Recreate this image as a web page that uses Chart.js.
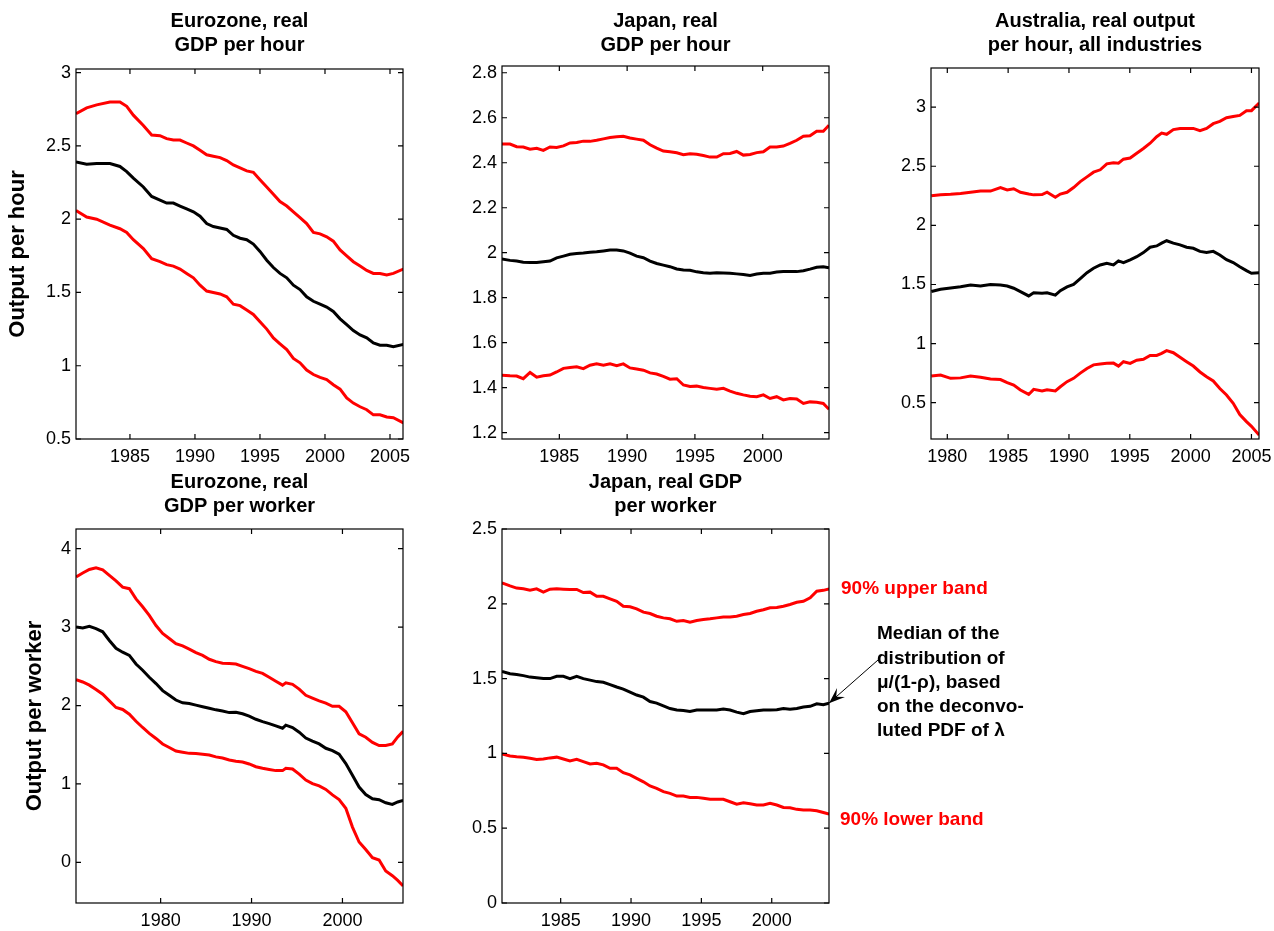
<!DOCTYPE html>
<html>
<head>
<meta charset="utf-8">
<title>Output per hour / per worker bands</title>
<script src="https://cdn.jsdelivr.net/npm/chart.js@4.4.1/dist/chart.umd.min.js"></script>
<style>
  html, body { margin: 0; padding: 0; background: #fff; }
  #page { position: relative; width: 1274px; height: 931px; overflow: hidden; }
  #page canvas { position: absolute; }
</style>
</head>
<body>
<div id="page">
  <canvas id="c-ez-hour"></canvas>
  <canvas id="c-jp-hour"></canvas>
  <canvas id="c-au-hour"></canvas>
  <canvas id="c-ez-worker"></canvas>
  <canvas id="c-jp-worker"></canvas>
</div>
<script>
// ===== Eurozone, real GDP per hour =====
const EZH_YEARS = [1980.85, 1981.67, 1982.44, 1983.46, 1984.23, 1984.75, 1985.26, 1986.03, 1986.67, 1987.31,
  1987.82, 1988.34, 1988.85, 1989.36, 1989.88, 1990.39, 1990.9, 1991.41, 1991.93, 1992.44,
  1992.95, 1993.47, 1993.98, 1994.49, 1995.0, 1995.52, 1996.03, 1996.54, 1997.06, 1997.57,
  1998.08, 1998.59, 1999.11, 1999.62, 2000.13, 2000.64, 2001.16, 2001.67, 2002.18, 2002.7,
  2003.21, 2003.72, 2004.23, 2004.75, 2005.26, 2006.03];
const EZH_UPPER = [2.72, 2.76, 2.78, 2.80, 2.80, 2.77, 2.71, 2.64, 2.575, 2.57,
  2.55, 2.54, 2.54, 2.52, 2.50, 2.47, 2.44, 2.43, 2.42, 2.40,
  2.37, 2.35, 2.33, 2.32, 2.27, 2.22, 2.17, 2.12, 2.09, 2.05,
  2.01, 1.97, 1.91, 1.90, 1.88, 1.85, 1.79, 1.75, 1.71, 1.68,
  1.65, 1.63, 1.63, 1.62, 1.63, 1.66];
const EZH_MEDIAN = [2.39, 2.375, 2.38, 2.38, 2.36, 2.325, 2.28, 2.22, 2.155, 2.13,
  2.11, 2.11, 2.09, 2.07, 2.05, 2.02, 1.97, 1.95, 1.94, 1.93,
  1.89, 1.87, 1.86, 1.83, 1.78, 1.72, 1.67, 1.63, 1.60, 1.55,
  1.52, 1.47, 1.44, 1.42, 1.40, 1.37, 1.32, 1.28, 1.24, 1.21,
  1.19, 1.155, 1.14, 1.14, 1.13, 1.145];
const EZH_LOWER = [2.06, 2.015, 2.0, 1.96, 1.935, 1.91, 1.86, 1.80, 1.73, 1.71,
  1.69, 1.68, 1.66, 1.63, 1.60, 1.55, 1.51, 1.50, 1.49, 1.47,
  1.42, 1.41, 1.38, 1.35, 1.30, 1.25, 1.19, 1.15, 1.11, 1.05,
  1.02, 0.97, 0.94, 0.92, 0.905, 0.87, 0.84, 0.78, 0.745, 0.72,
  0.70, 0.665, 0.665, 0.65, 0.645, 0.61];
const EZH_XTICKS = [1985, 1990, 1995, 2000, 2005];
const EZH_YTICKS = [0.5, 1, 1.5, 2, 2.5, 3];

// ===== Japan, real GDP per hour =====
const JPH_YEARS = [1980.75, 1981.36, 1981.85, 1982.34, 1982.84, 1983.33, 1983.82, 1984.31, 1984.80, 1985.30,
  1985.79, 1986.28, 1986.77, 1987.26, 1987.75, 1988.25, 1988.74, 1989.23, 1989.72, 1990.21,
  1990.70, 1991.20, 1991.69, 1992.18, 1992.67, 1993.16, 1993.66, 1994.15, 1994.64, 1995.13,
  1995.62, 1996.11, 1996.61, 1997.10, 1997.59, 1998.08, 1998.57, 1999.07, 1999.56, 2000.05,
  2000.54, 2001.03, 2001.52, 2002.01, 2002.51, 2003.00, 2003.49, 2003.98, 2004.47, 2004.89];
const JPH_UPPER = [2.483, 2.483, 2.471, 2.47, 2.46, 2.464, 2.455, 2.47, 2.468, 2.475,
  2.488, 2.49, 2.496, 2.495, 2.50, 2.506, 2.512, 2.515, 2.518, 2.51,
  2.505, 2.50, 2.48, 2.465, 2.452, 2.449, 2.444, 2.436, 2.44, 2.438,
  2.432, 2.425, 2.425, 2.44, 2.441, 2.45, 2.434, 2.437, 2.445, 2.449,
  2.47, 2.47, 2.474, 2.486, 2.50, 2.518, 2.52, 2.54, 2.54, 2.567];
const JPH_MEDIAN = [1.972, 1.966, 1.963, 1.958, 1.957, 1.957, 1.96, 1.963, 1.977, 1.985,
  1.993, 1.997, 1.999, 2.002, 2.004, 2.008, 2.012, 2.012, 2.008, 1.998,
  1.985, 1.978, 1.963, 1.952, 1.945, 1.938, 1.928, 1.923, 1.922, 1.915,
  1.911, 1.909, 1.911, 1.910, 1.909, 1.906, 1.903, 1.899, 1.905, 1.909,
  1.909, 1.914, 1.916, 1.916, 1.916, 1.92, 1.927, 1.935, 1.938, 1.933];
const JPH_LOWER = [1.456, 1.453, 1.452, 1.440, 1.468, 1.447, 1.453, 1.456, 1.47, 1.486,
  1.49, 1.493, 1.485, 1.50, 1.506, 1.50, 1.506, 1.498, 1.506, 1.488,
  1.483, 1.478, 1.466, 1.461, 1.45, 1.438, 1.44, 1.412, 1.405, 1.407,
  1.401, 1.397, 1.393, 1.397, 1.385, 1.375, 1.368, 1.362, 1.36, 1.368,
  1.352, 1.36, 1.346, 1.352, 1.35, 1.33, 1.337, 1.335, 1.33, 1.304];
const JPH_XTICKS = [1985, 1990, 1995, 2000];
const JPH_YTICKS = [1.2, 1.4, 1.6, 1.8, 2, 2.2, 2.4, 2.6, 2.8];

// ===== Australia, real output per hour, all industries =====
const AUH_YEARS = [1978.69, 1979.45, 1980.27, 1981.09, 1981.91, 1982.73, 1983.55, 1984.37, 1984.92, 1985.46,
  1986.01, 1986.69, 1987.10, 1987.79, 1988.20, 1988.88, 1989.29, 1989.84, 1990.38, 1990.93,
  1991.48, 1992.02, 1992.57, 1993.11, 1993.66, 1994.07, 1994.48, 1995.03, 1995.57, 1996.12,
  1996.67, 1997.21, 1997.62, 1998.03, 1998.58, 1999.13, 1999.67, 2000.22, 2000.77, 2001.31,
  2001.86, 2002.40, 2002.95, 2003.50, 2004.04, 2004.59, 2005.00, 2005.63];
const AUH_UPPER = [2.25, 2.258, 2.263, 2.27, 2.28, 2.29, 2.29, 2.32, 2.30, 2.31,
  2.28, 2.265, 2.258, 2.26, 2.28, 2.238, 2.265, 2.28, 2.32, 2.37,
  2.41, 2.45, 2.47, 2.52, 2.53, 2.526, 2.56, 2.57, 2.61, 2.65,
  2.695, 2.75, 2.78, 2.77, 2.81, 2.82, 2.82, 2.82, 2.80, 2.82,
  2.86, 2.88, 2.91, 2.92, 2.93, 2.97, 2.97, 3.035];
const AUH_MEDIAN = [1.44, 1.46, 1.47, 1.48, 1.495, 1.487, 1.50, 1.495, 1.487, 1.468,
  1.44, 1.403, 1.43, 1.426, 1.43, 1.41, 1.448, 1.48, 1.50, 1.55,
  1.60, 1.637, 1.665, 1.68, 1.665, 1.70, 1.685, 1.708, 1.735, 1.77,
  1.815, 1.826, 1.85, 1.87, 1.85, 1.835, 1.815, 1.806, 1.78, 1.77,
  1.78, 1.75, 1.71, 1.685, 1.65, 1.617, 1.595, 1.60];
const AUH_LOWER = [0.726, 0.734, 0.706, 0.71, 0.726, 0.715, 0.70, 0.696, 0.67, 0.65,
  0.607, 0.57, 0.613, 0.60, 0.61, 0.60, 0.635, 0.678, 0.706, 0.75,
  0.79, 0.82, 0.827, 0.833, 0.835, 0.81, 0.847, 0.833, 0.86, 0.867,
  0.90, 0.90, 0.917, 0.94, 0.923, 0.884, 0.847, 0.81, 0.76, 0.72,
  0.684, 0.62, 0.565, 0.495, 0.40, 0.34, 0.30, 0.226];
const AUH_XTICKS = [1980, 1985, 1990, 1995, 2000, 2005];
const AUH_YTICKS = [0.5, 1, 1.5, 2, 2.5, 3];

// ===== Eurozone, real GDP per worker =====
const EZW_YEARS = [1970.70, 1971.43, 1972.16, 1972.89, 1973.63, 1974.36, 1975.09, 1975.82, 1976.56, 1977.29,
  1978.02, 1978.75, 1979.49, 1980.22, 1980.95, 1981.68, 1982.42, 1983.15, 1983.88, 1984.62,
  1985.35, 1986.08, 1986.81, 1987.55, 1988.28, 1989.01, 1989.74, 1990.48, 1991.21, 1991.94,
  1992.67, 1993.41, 1993.77, 1994.51, 1995.24, 1995.97, 1996.70, 1997.44, 1998.17, 1998.90,
  1999.63, 2000.37, 2001.10, 2001.83, 2002.56, 2003.30, 2004.03, 2004.76, 2005.49, 2006.08,
  2006.67];
const EZW_UPPER = [3.64, 3.69, 3.735, 3.757, 3.73, 3.66, 3.59, 3.51, 3.49, 3.36,
  3.26, 3.15, 3.02, 2.92, 2.855, 2.79, 2.76, 2.72, 2.675, 2.64,
  2.59, 2.56, 2.54, 2.536, 2.53, 2.50, 2.47, 2.435, 2.41, 2.36,
  2.31, 2.26, 2.29, 2.27, 2.21, 2.13, 2.095, 2.06, 2.03, 1.99,
  1.99, 1.92, 1.78, 1.64, 1.595, 1.53, 1.49, 1.49, 1.51, 1.60,
  1.67];
const EZW_MEDIAN = [3.0, 2.99, 3.01, 2.98, 2.94, 2.83, 2.73, 2.68, 2.64, 2.53,
  2.45, 2.36, 2.28, 2.19, 2.13, 2.07, 2.035, 2.025, 2.005, 1.985,
  1.965, 1.945, 1.93, 1.91, 1.915, 1.895, 1.865, 1.825, 1.795, 1.77,
  1.74, 1.71, 1.75, 1.72, 1.66, 1.585, 1.545, 1.51, 1.455, 1.425,
  1.38, 1.26, 1.11, 0.96, 0.865, 0.81, 0.80, 0.76, 0.74, 0.77,
  0.79];
const EZW_LOWER = [2.33, 2.30, 2.26, 2.205, 2.145, 2.06, 1.975, 1.95, 1.89, 1.80,
  1.72, 1.645, 1.58, 1.51, 1.465, 1.42, 1.405, 1.39, 1.388, 1.38,
  1.37, 1.345, 1.33, 1.305, 1.29, 1.28, 1.255, 1.22, 1.20, 1.185,
  1.17, 1.17, 1.20, 1.19, 1.125, 1.05, 1.005, 0.975, 0.93, 0.86,
  0.80, 0.69, 0.45, 0.26, 0.165, 0.06, 0.03, -0.11, -0.17, -0.23,
  -0.30];
const EZW_XTICKS = [1980, 1990, 2000];
const EZW_YTICKS = [0, 1, 2, 3, 4];

// ===== Japan, real GDP per worker =====
const JPW_YEARS = [1980.83, 1981.40, 1981.87, 1982.35, 1982.82, 1983.29, 1983.77, 1984.24, 1984.72, 1985.19,
  1985.66, 1986.14, 1986.61, 1987.09, 1987.56, 1988.03, 1988.51, 1988.98, 1989.45, 1989.93,
  1990.40, 1990.88, 1991.35, 1991.82, 1992.30, 1992.77, 1993.25, 1993.72, 1994.19, 1994.67,
  1995.14, 1995.62, 1996.09, 1996.56, 1997.04, 1997.51, 1997.99, 1998.46, 1998.93, 1999.41,
  1999.88, 2000.36, 2000.83, 2001.30, 2001.78, 2002.25, 2002.73, 2003.20, 2003.67, 2004.08];
const JPW_UPPER = [2.14, 2.12, 2.105, 2.10, 2.09, 2.10, 2.078, 2.098, 2.10, 2.098,
  2.096, 2.096, 2.075, 2.078, 2.05, 2.05, 2.033, 2.017, 1.984, 1.98,
  1.966, 1.944, 1.935, 1.917, 1.906, 1.90, 1.883, 1.888, 1.877, 1.888,
  1.895, 1.90, 1.906, 1.912, 1.912, 1.917, 1.928, 1.935, 1.95, 1.96,
  1.973, 1.975, 1.984, 1.995, 2.01, 2.017, 2.04, 2.084, 2.09, 2.10];
const JPW_MEDIAN = [1.548, 1.533, 1.528, 1.52, 1.51, 1.505, 1.50, 1.50, 1.515, 1.515,
  1.50, 1.515, 1.50, 1.49, 1.48, 1.475, 1.46, 1.444, 1.43, 1.41,
  1.39, 1.376, 1.347, 1.336, 1.318, 1.30, 1.29, 1.287, 1.28, 1.29,
  1.29, 1.29, 1.29, 1.296, 1.29, 1.276, 1.265, 1.28, 1.285, 1.29,
  1.29, 1.292, 1.30, 1.295, 1.30, 1.31, 1.315, 1.332, 1.325, 1.336];
const JPW_LOWER = [0.996, 0.983, 0.978, 0.974, 0.967, 0.96, 0.963, 0.97, 0.975, 0.963,
  0.95, 0.96, 0.945, 0.93, 0.934, 0.923, 0.90, 0.90, 0.871, 0.856,
  0.833, 0.81, 0.782, 0.766, 0.744, 0.733, 0.715, 0.715, 0.706, 0.706,
  0.70, 0.693, 0.693, 0.693, 0.677, 0.661, 0.67, 0.663, 0.655, 0.655,
  0.666, 0.655, 0.639, 0.637, 0.626, 0.621, 0.622, 0.617, 0.605, 0.595];
const JPW_XTICKS = [1985, 1990, 1995, 2000];
const JPW_YTICKS = [0, 0.5, 1, 1.5, 2, 2.5];

// ===== annotation texts (Japan per worker panel) =====
const NOTE_UPPER = '90% upper band';
const NOTE_LOWER = '90% lower band';
const NOTE_MEDIAN = ['Median of the', 'distribution of', 'μ/(1-ρ), based', 'on the deconvo-', 'luted PDF of λ'];

// ===== styles =====
const FONT = '"Liberation Sans", Arial, Helvetica, sans-serif';
const RED = '#ff0000';
const BLACK = '#000000';
const LINE_W = 3;
const TICK_LEN = 5;
const TITLE_SIZE = 20;
const TITLE_LH = 1.165;

Chart.defaults.font.family = FONT;
Chart.defaults.color = '#000';

const fmtTick = (v) => String(Math.round(v * 100) / 100);

// box + inward ticks on all four sides (matlab look)
const boxPlugin = {
  id: 'matlabBox',
  afterDraw(chart) {
    const { ctx, chartArea: a, scales: { x, y } } = chart;
    ctx.save();
    ctx.strokeStyle = '#000';
    ctx.lineWidth = 1.2;
    ctx.strokeRect(a.left, a.top, a.right - a.left, a.bottom - a.top);
    ctx.beginPath();
    x.ticks.forEach(t => {
      const px = x.getPixelForValue(t.value);
      ctx.moveTo(px, a.bottom); ctx.lineTo(px, a.bottom - TICK_LEN);
      ctx.moveTo(px, a.top); ctx.lineTo(px, a.top + TICK_LEN);
    });
    y.ticks.forEach(t => {
      const py = y.getPixelForValue(t.value);
      ctx.moveTo(a.left, py); ctx.lineTo(a.left + TICK_LEN, py);
      ctx.moveTo(a.right, py); ctx.lineTo(a.right - TICK_LEN, py);
    });
    ctx.stroke();
    ctx.restore();
  }
};

// band labels + arrow for the median line
const notePlugin = {
  id: 'bandNotes',
  afterDraw(chart) {
    const { ctx, chartArea: a, scales: { y } } = chart;
    const n = JPW_YEARS.length - 1;
    ctx.save();
    ctx.font = 'bold 19px ' + FONT;
    ctx.textBaseline = 'middle';
    ctx.textAlign = 'left';
    ctx.fillStyle = RED;
    ctx.fillText(NOTE_UPPER, a.right + 12, y.getPixelForValue(JPW_UPPER[n]));
    ctx.fillText(NOTE_LOWER, a.right + 11, y.getPixelForValue(JPW_LOWER[n]) + 6);

    ctx.fillStyle = BLACK;
    const tipX = a.right;
    const tipY = y.getPixelForValue(JPW_MEDIAN[n]);
    const textTop = tipY - 69;
    NOTE_MEDIAN.forEach((line, i) => ctx.fillText(line, a.right + 48, textTop + i * 24.2));

    // arrow
    const tailX = tipX + 50, tailY = tipY - 44;
    const ang = Math.atan2(tipY - tailY, tipX - tailX);
    ctx.strokeStyle = BLACK;
    ctx.lineWidth = 1;
    ctx.beginPath();
    ctx.moveTo(tailX, tailY);
    ctx.lineTo(tipX, tipY);
    ctx.stroke();
    const L = 16, W = 6;
    const bx = tipX - L * Math.cos(ang), by = tipY - L * Math.sin(ang);
    const nx = tipX - L * 0.6 * Math.cos(ang), ny = tipY - L * 0.6 * Math.sin(ang);
    ctx.beginPath();
    ctx.moveTo(tipX, tipY);
    ctx.lineTo(bx + W * Math.sin(ang), by - W * Math.cos(ang));
    ctx.lineTo(nx, ny);
    ctx.lineTo(bx - W * Math.sin(ang), by + W * Math.cos(ang));
    ctx.closePath();
    ctx.fill();
    ctx.restore();
  }
};

function toPoints(xs, ys) {
  return xs.map((x, i) => ({ x: x, y: ys[i] }));
}

function lineSet(xs, ys, color) {
  return {
    data: toPoints(xs, ys),
    borderColor: color,
    borderWidth: LINE_W,
    pointRadius: 0,
    tension: 0,
    fill: false
  };
}

// p: canvas box + plot box in page pixels, axis ranges, texts, data
function renderPanel(p) {
  const cv = document.getElementById(p.id);
  cv.style.left = p.cx + 'px';
  cv.style.top = p.cy + 'px';
  cv.width = p.cw;
  cv.height = p.ch;
  cv.style.width = p.cw + 'px';
  cv.style.height = p.ch + 'px';

  const yAxisW = p.plotL - p.cx;
  const xAxisH = p.cy + p.ch - p.plotB;
  const padR = p.cx + p.cw - p.plotR;
  const lh = TITLE_SIZE * TITLE_LH;
  const titleTopPad = p.titleY - p.cy - lh / 2;
  const titleBotPad = p.plotT - p.cy - titleTopPad - 2 * lh;

  return new Chart(cv.getContext('2d'), {
    type: 'line',
    data: {
      datasets: [
        lineSet(p.years, p.upper, RED),
        lineSet(p.years, p.median, BLACK),
        lineSet(p.years, p.lower, RED)
      ]
    },
    options: {
      responsive: false,
      animation: false,
      events: [],
      layout: { padding: { left: 0, right: padR, top: 0, bottom: 0 } },
      plugins: {
        legend: { display: false },
        tooltip: { enabled: false },
        title: {
          display: true,
          text: p.title,
          fullSize: false,
          color: '#000',
          font: { size: TITLE_SIZE, weight: 'bold', lineHeight: TITLE_LH },
          padding: { top: titleTopPad, bottom: titleBotPad }
        }
      },
      scales: {
        x: {
          type: 'linear',
          min: p.xMin,
          max: p.xMax,
          grid: { display: false, drawTicks: false },
          border: { display: false },
          ticks: { font: { size: 18 }, color: '#000', padding: 7, maxRotation: 0, callback: fmtTick },
          afterBuildTicks: (s) => { s.ticks = p.xTicks.map(v => ({ value: v })); },
          afterFit: (s) => { s.height = xAxisH; s.paddingLeft = 0; s.paddingRight = 0; }
        },
        y: {
          type: 'linear',
          min: p.yMin,
          max: p.yMax,
          grid: { display: false, drawTicks: false },
          border: { display: false },
          ticks: { font: { size: 18 }, color: '#000', padding: 5, callback: fmtTick },
          title: p.yTitle ? {
            display: true,
            text: p.yTitle,
            color: '#000',
            font: { size: 22, weight: 'bold', lineHeight: 1.2 },
            padding: { top: p.yTitlePad, bottom: 0 }
          } : { display: false },
          afterBuildTicks: (s) => { s.ticks = p.yTicks.map(v => ({ value: v })); },
          afterFit: (s) => { s.width = yAxisW; s.paddingTop = 0; s.paddingBottom = 0; }
        }
      }
    },
    plugins: p.extra ? [boxPlugin, p.extra] : [boxPlugin]
  });
}

document.addEventListener('DOMContentLoaded', () => {
  renderPanel({
    id: 'c-ez-hour', cx: 0, cy: 0, cw: 413, ch: 475,
    plotL: 76, plotT: 69, plotR: 403, plotB: 439, titleY: 21.7,
    title: ['Eurozone, real', 'GDP per hour'],
    yTitle: 'Output per hour', yTitlePad: 5,
    xMin: 1980.85, xMax: 2006.0, yMin: 0.5, yMax: 3.025,
    xTicks: EZH_XTICKS, yTicks: EZH_YTICKS,
    years: EZH_YEARS, upper: EZH_UPPER, median: EZH_MEDIAN, lower: EZH_LOWER
  });
  renderPanel({
    id: 'c-jp-hour', cx: 430, cy: 0, cw: 409, ch: 475,
    plotL: 502, plotT: 66, plotR: 829, plotB: 439, titleY: 21.7,
    title: ['Japan, real', 'GDP per hour'],
    xMin: 1980.77, xMax: 2004.89, yMin: 1.172, yMax: 2.83,
    xTicks: JPH_XTICKS, yTicks: JPH_YTICKS,
    years: JPH_YEARS, upper: JPH_UPPER, median: JPH_MEDIAN, lower: JPH_LOWER
  });
  renderPanel({
    id: 'c-au-hour', cx: 860, cy: 0, cw: 414, ch: 475,
    plotL: 931, plotT: 68, plotR: 1259, plotB: 439, titleY: 21.7,
    title: ['Australia, real output', 'per hour, all industries'],
    xMin: 1978.66, xMax: 2005.62, yMin: 0.193, yMax: 3.331,
    xTicks: AUH_XTICKS, yTicks: AUH_YTICKS,
    years: AUH_YEARS, upper: AUH_UPPER, median: AUH_MEDIAN, lower: AUH_LOWER
  });
  renderPanel({
    id: 'c-ez-worker', cx: 0, cy: 460, cw: 413, ch: 471,
    plotL: 76, plotT: 529, plotR: 403, plotB: 903, titleY: 482.7,
    title: ['Eurozone, real', 'GDP per worker'],
    yTitle: 'Output per worker', yTitlePad: 21.5,
    xMin: 1970.69, xMax: 2006.66, yMin: -0.518, yMax: 4.251,
    xTicks: EZW_XTICKS, yTicks: EZW_YTICKS,
    years: EZW_YEARS, upper: EZW_UPPER, median: EZW_MEDIAN, lower: EZW_LOWER
  });
  renderPanel({
    id: 'c-jp-worker', cx: 430, cy: 460, cw: 844, ch: 471,
    plotL: 502, plotT: 529, plotR: 829, plotB: 903, titleY: 482.7,
    title: ['Japan, real GDP', 'per worker'],
    xMin: 1980.83, xMax: 2004.07, yMin: 0, yMax: 2.5,
    xTicks: JPW_XTICKS, yTicks: JPW_YTICKS,
    years: JPW_YEARS, upper: JPW_UPPER, median: JPW_MEDIAN, lower: JPW_LOWER,
    extra: notePlugin
  });
});
</script>
</body>
</html>
